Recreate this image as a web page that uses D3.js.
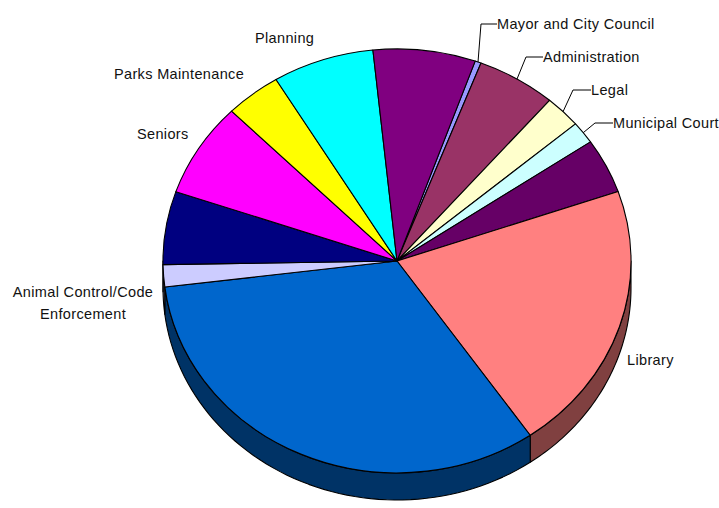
<!DOCTYPE html>
<html>
<head>
<meta charset="utf-8">
<script src="https://cdnjs.cloudflare.com/ajax/libs/d3/7.8.5/d3.min.js"></script>
<style>
  html, body { margin: 0; padding: 0; background: #fff; }
  svg { display: block; }
  text { font-family: "Liberation Sans", Arial, sans-serif; font-size: 14.5px; letter-spacing: 0.35px; fill: #111; }
</style>
</head>
<body>
<svg id="chart" width="719" height="508"></svg>
<script>
// Share of budget per department, clockwise from the first slice.
const departments = ["Mayor and City Council", "Administration", "Legal", "Municipal Court", "",
  "Library", "", "Animal Control/Code Enforcement", "", "Seniors", "Parks Maintenance", "Planning", ""];
const shares = [0.42, 5.47, 2.5, 1.69, 4.19, 20.67, 32.67, 1.69, 5.58, 7.19, 3.86, 7.0, 7.06];
const topColors = ["#9999ff", "#993366", "#ffffcc", "#ccffff", "#660066", "#ff8080", "#0066cc",
  "#ccccff", "#000080", "#ff00ff", "#ffff00", "#00ffff", "#800080"];

// Pie geometry: a tilted disc with a visible rim.
const cx = 397, cy = 261, rx = 234, ry = 212, depth = 27;
const rotation = 19.5 * Math.PI / 180;

const svg = d3.select("#chart");
const pie = d3.pie().sort(null).value(d => d.share)
  .startAngle(rotation).endAngle(rotation + 2 * Math.PI);
const slices = pie(departments.map((name, i) => ({ name, share: shares[i], color: topColors[i] })));

const rimPoint = t => [cx + rx * Math.sin(t), cy - ry * Math.cos(t)];
const darken = c => { const k = d3.rgb(c); return d3.rgb(k.r / 2, k.g / 2, k.b / 2).formatHex(); };

// Rim: only the front half of the disc (PI/2 to 3PI/2) shows a wall.
const wall = svg.append("g");
slices.forEach(s => {
  const a = Math.max(s.startAngle, Math.PI / 2);
  const b = Math.min(s.endAngle, 3 * Math.PI / 2);
  if (b <= a) return;
  const ts = d3.range(0, 61).map(i => a + (b - a) * i / 60);
  const upper = ts.map(rimPoint);
  const lower = ts.slice().reverse().map(t => { const p = rimPoint(t); return [p[0], p[1] + depth]; });
  wall.append("path")
    .attr("d", d3.line()(upper.concat(lower)) + "Z")
    .attr("fill", darken(s.data.color))
    .attr("stroke", "#000")
    .attr("stroke-width", 1.1)
    .attr("stroke-linejoin", "round");
});

// Top face: a unit-radius arc stretched into an ellipse.
const arc = d3.arc().innerRadius(0).outerRadius(1);
svg.append("g")
  .attr("transform", `translate(${cx},${cy}) scale(${rx},${ry})`)
  .selectAll("path")
  .data(slices)
  .join("path")
  .attr("d", arc)
  .attr("fill", d => d.data.color)
  .attr("stroke", "#000")
  .attr("stroke-width", 1.1)
  .attr("stroke-linejoin", "round")
  .attr("vector-effect", "non-scaling-stroke");

// Label placement, keyed by department name.
const labelLayout = new Map([
  ["Mayor and City Council", { x: 497, y: 29, anchor: "start", elbow: [481, 24], end: [497, 24] }],
  ["Administration", { x: 543, y: 62, anchor: "start", elbow: [526, 57], end: [543, 57] }],
  ["Legal", { x: 591, y: 95, anchor: "start", elbow: [573, 90], end: [591, 90] }],
  ["Municipal Court", { x: 613, y: 128, anchor: "start", elbow: [595, 123], end: [613, 123] }],
  ["Library", { x: 627, y: 365, anchor: "start" }],
  ["Animal Control/Code Enforcement", { x: 83, y: 297, anchor: "middle", lines: ["Animal Control/Code", "Enforcement"] }],
  ["Seniors", { x: 137, y: 139, anchor: "start" }],
  ["Parks Maintenance", { x: 114, y: 79, anchor: "start" }],
  ["Planning", { x: 255, y: 43, anchor: "start" }]
]);

// Leader lines run from the middle of the slice's outer edge to the label.
const leader = d3.line();
slices.forEach(s => {
  const layout = labelLayout.get(s.data.name);
  if (!layout || !layout.elbow) return;
  const mid = (s.startAngle + s.endAngle) / 2;
  svg.append("path")
    .attr("d", leader([rimPoint(mid), layout.elbow, layout.end]))
    .attr("fill", "none")
    .attr("stroke", "#000")
    .attr("stroke-width", 1);
});

slices.forEach(s => {
  const layout = labelLayout.get(s.data.name);
  if (!layout) return;
  const text = svg.append("text")
    .attr("x", layout.x)
    .attr("y", layout.y)
    .attr("text-anchor", layout.anchor);
  (layout.lines || [s.data.name]).forEach((line, i) => {
    text.append("tspan").attr("x", layout.x).attr("dy", i ? 22 : 0).text(line);
  });
});
</script>
</body>
</html>
